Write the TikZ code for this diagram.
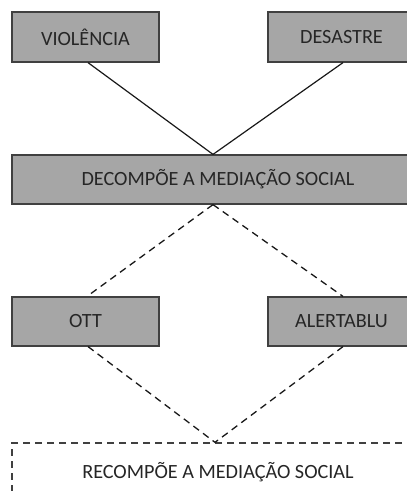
\documentclass[tikz,border=0pt]{standalone}
\usepackage{fontspec}
\setmainfont{Carlito}
\definecolor{boxfill}{HTML}{A6A6A6}
\definecolor{boxline}{HTML}{404040}
\begin{document}
\begin{tikzpicture}[x=1pt,y=-1pt,
  greybox/.style={draw=boxline,fill=boxfill,line width=1.2pt,inner sep=0pt,
    font=\fontsize{20.2}{22}\selectfont,text=black!85},
  dashbox/.style={draw=boxline,line width=1.3pt,dash pattern=on 7pt off 5pt,inner sep=0pt,
    font=\fontsize{20.2}{22}\selectfont,text=black!85},
  solidlink/.style={draw=black!90,line width=1.2pt},
  dashlink/.style={draw=black!90,line width=1.3pt,dash pattern=on 7pt off 5pt}]
\useasboundingbox (0,0) rectangle (407,491);
\clip (0,0) rectangle (407,491);
\fill[white] (0,0) rectangle (407,491);
\node[greybox,minimum width=147pt,minimum height=50pt] (v) at (85.5,37) {VIOLÊNCIA};
\node[greybox,minimum width=147pt,minimum height=50pt] (des) at (341.5,37) {DESASTRE};
\node[greybox,minimum width=412pt,minimum height=49pt] (dec) at (218,179.5) {DECOMPÕE A MEDIAÇÃO SOCIAL};
\node[greybox,minimum width=147pt,minimum height=49pt] (ott) at (85.5,321.5) {OTT};
\node[greybox,minimum width=147pt,minimum height=49pt] (al) at (341.5,321.5) {ALERTABLU};
\node[dashbox,minimum width=412pt,minimum height=58pt] (rec) at (218,472) {RECOMPÕE A MEDIAÇÃO SOCIAL};
\coordinate (dectop) at ([xshift=-5pt]dec.north);
\coordinate (decbot) at ([xshift=-5pt]dec.south);
\coordinate (rectop) at ([xshift=-3pt]rec.north);
\draw[solidlink] ([xshift=2.5pt]v.south) -- (dectop);
\draw[solidlink] ([xshift=1.5pt]des.south) -- (dectop);
\draw[dashlink] (decbot) -- ([xshift=1.5pt]ott.north);
\draw[dashlink] (decbot) -- ([xshift=1.5pt]al.north);
\draw[dashlink] ([xshift=2.5pt]ott.south) -- (rectop);
\draw[dashlink] ([xshift=1.5pt]al.south) -- (rectop);
\end{tikzpicture}
\end{document}
